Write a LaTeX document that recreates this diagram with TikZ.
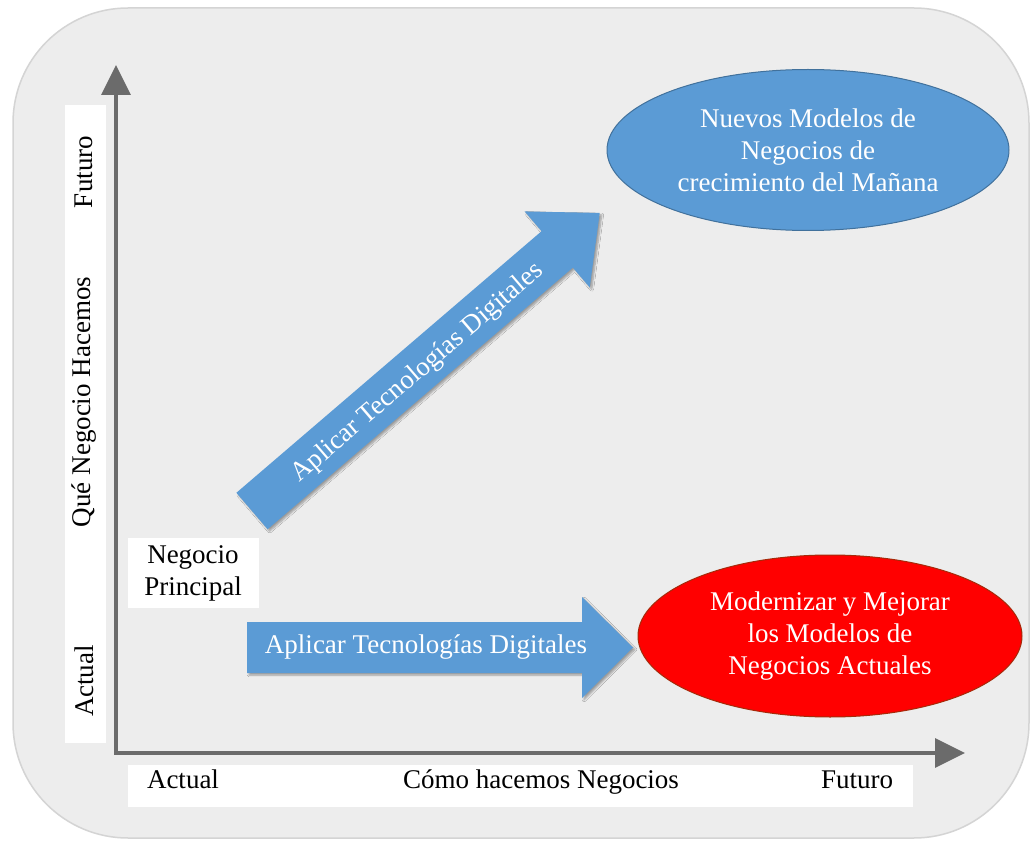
\documentclass[tikz,border=0pt]{standalone}
\usepackage{fontspec}
\setmainfont{Liberation Serif}
\usetikzlibrary{arrows.meta,shapes.geometric,shadows.blur}

\definecolor{panel}{HTML}{EDEDED}
\definecolor{paneledge}{HTML}{D4D4D4}
\definecolor{axisgray}{HTML}{6B6B6B}
\definecolor{blockblue}{HTML}{5B9BD5}
\definecolor{blockedge}{HTML}{41719C}
\definecolor{redfill}{HTML}{FF0000}
\definecolor{rededge}{HTML}{A52A0A}

\tikzset{
  txt/.style={font=\fontsize{27}{32}\selectfont, inner sep=0pt},
  wtxt/.style={txt, text=white},
  labelbox/.style={fill=white, draw=none},
  blockarrow/.style={fill=blockblue, draw=none,
    blur shadow={shadow xshift=2pt, shadow yshift=-2pt, shadow opacity=35, shadow blur steps=6}},
  goal/.style={ellipse, inner sep=0pt, minimum width=402pt, minimum height=161pt,
    align=center, txt, text=white, line width=1pt},
  axis/.style={axisgray, line width=3.5pt, line join=miter,
    {Triangle[width=29pt,length=30pt]}-{Triangle[width=29pt,length=30pt]}},
}

\begin{document}
\begin{tikzpicture}[x=1pt,y=-1pt]
\useasboundingbox (0,0) rectangle (1031,842);

% panel
\fill[white] (0,0) rectangle (1031,842);
\draw[paneledge, fill=panel, line width=1.5pt, rounded corners=115pt] (13,8) rectangle (1029,838);

% white label strips
\fill[labelbox] (65,105) rectangle (106,743);
\fill[labelbox] (128,765) rectangle (913,807);
\fill[labelbox] (128,538) rectangle (259,608);

% axes
\coordinate (ytop) at (116,65);
\coordinate (origin) at (116,753);
\coordinate (xend) at (965,753);
\draw[axis] (ytop) -- (origin) -- (xend);

% axis labels
\node[txt, rotate=90] (yfut) at (84,172) {Futuro};
\node[txt, rotate=90] (ytitle) at (84,402) {Qué Negocio Hacemos};
\node[txt, rotate=90] (yact) at (84,681) {Actual};
\node[txt, anchor=base] (xact) at (183,788) {Actual};
\node[txt, anchor=base] (xtitle) at (541,788) {Cómo hacemos Negocios};
\node[txt, anchor=base] (xfut) at (857,788) {Futuro};

\node[txt, align=center] (core) at (193,573) {Negocio\\Principal};

% horizontal block arrow
\path[blockarrow] (247,622) -- (582,622) -- (582,597) -- (633,647.5)
  -- (582,698) -- (582,673) -- (247,673) -- cycle;
\node[wtxt] (harrow) at (426,647) {Aplicar Tecnologías Digitales};

% diagonal block arrow
\begin{scope}[shift={(252,511)}, rotate=40.6]
  \path[blockarrow] (0,-24) -- (402,-24) -- (402,-50) -- (458,0)
    -- (402,50) -- (402,24) -- (0,24) -- cycle;
\end{scope}
\node[wtxt, rotate=40.6] (darrow) at (418,373) {Aplicar Tecnologías Digitales};

% goals
\node[goal, fill=blockblue, draw=blockedge] (nuevos) at (808,150)
  {Nuevos Modelos de\\Negocios de\\crecimiento del Mañana};
\node[goal, fill=redfill, draw=rededge, minimum width=384pt, minimum height=162pt] (moder) at (830,636)
  {Modernizar y Mejorar\\los Modelos de\\Negocios Actuales};
\end{tikzpicture}
\end{document}
